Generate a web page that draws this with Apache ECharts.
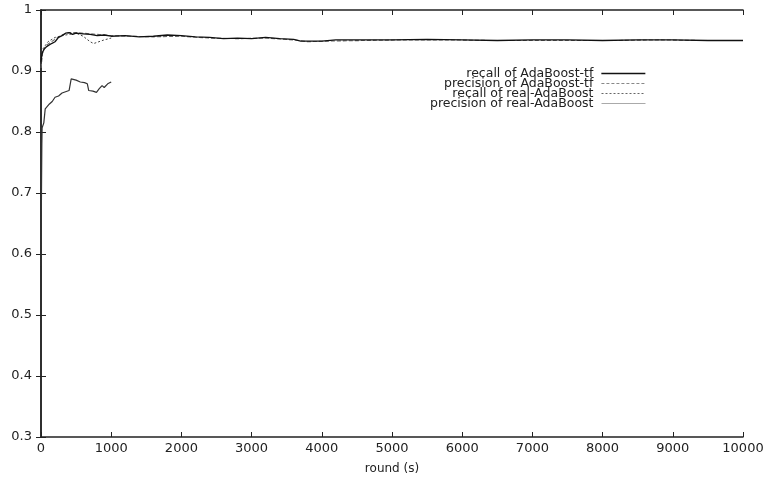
<!DOCTYPE html>
<html>
<head>
<meta charset="utf-8">
<script src="https://cdn.jsdelivr.net/npm/echarts@6/dist/echarts.min.js"></script>
<style>
  html, body { margin: 0; padding: 0; background: #fff; }
  #chart { width: 768px; height: 486px; }
</style>
</head>
<body>
<div id="chart"></div>
<script>
// series: [round, value]
const recallTf = [
  [1, 0.915], [10, 0.925], [20, 0.93], [40, 0.935], [60, 0.937], [80, 0.94], [100, 0.938],
  [150, 0.945], [200, 0.948], [250, 0.955], [300, 0.958], [350, 0.962], [400, 0.963],
  [450, 0.96], [500, 0.962], [600, 0.961], [700, 0.96], [800, 0.958], [900, 0.959],
  [1000, 0.957], [1200, 0.958], [1400, 0.956], [1600, 0.957], [1800, 0.959], [2000, 0.958],
  [2200, 0.956], [2400, 0.955], [2600, 0.953], [2800, 0.954], [3000, 0.953], [3200, 0.955],
  [3400, 0.953], [3600, 0.952], [3700, 0.949], [4000, 0.949], [4200, 0.951], [4500, 0.951],
  [5000, 0.951], [5500, 0.952], [6000, 0.951], [6500, 0.95], [7000, 0.951], [7500, 0.951],
  [8000, 0.95], [8500, 0.951], [9000, 0.951], [9500, 0.95], [10000, 0.95]
];
const precisionTf = [
  [1, 0.905], [20, 0.928], [50, 0.938], [100, 0.944], [200, 0.952], [300, 0.959],
  [400, 0.963], [500, 0.963], [700, 0.961], [1000, 0.958], [1300, 0.957], [1600, 0.956],
  [2000, 0.957], [2400, 0.954], [2800, 0.953], [3200, 0.954], [3600, 0.951], [3800, 0.948],
  [4100, 0.949], [4600, 0.95], [5200, 0.951], [5800, 0.951], [6400, 0.95], [7000, 0.95],
  [7600, 0.95], [8200, 0.95], [8800, 0.951], [9400, 0.95], [10000, 0.95]
];
const recallReal = [
  [1, 0.91], [20, 0.935], [50, 0.94], [100, 0.948], [200, 0.955], [300, 0.958],
  [400, 0.96], [500, 0.962], [600, 0.957], [700, 0.948], [750, 0.945], [800, 0.947],
  [900, 0.951], [1000, 0.954]
];
const precisionReal = [
  [1, 0.58], [4, 0.65], [8, 0.72], [12, 0.78], [16, 0.807], [40, 0.815], [60, 0.838],
  [90, 0.842], [120, 0.846], [160, 0.85], [200, 0.857], [250, 0.859], [300, 0.864],
  [350, 0.866], [400, 0.868], [430, 0.887], [500, 0.885], [560, 0.882], [620, 0.881],
  [660, 0.879], [680, 0.868], [740, 0.867], [790, 0.865], [830, 0.871], [870, 0.876],
  [900, 0.873], [950, 0.879], [1000, 0.882]
];

const seriesNames = [
  "recall of AdaBoost-tf",
  "precision of AdaBoost-tf",
  "recall of real-AdaBoost",
  "precision of real-AdaBoost"
];
const seriesData = [recallTf, precisionTf, recallReal, precisionReal];
const lineStyles = [
  { color: "#111", width: 1.3, type: "solid" },
  { color: "#666", width: 1.1, type: [4, 2] },
  { color: "#444", width: 1, type: [2, 2] },
  { color: "#333", width: 1.2, type: "solid" }
];
const legendSamples = [
  { color: "#111", width: 1.3, type: "solid" },
  { color: "#888", width: 1.2, type: [3, 2] },
  { color: "#666", width: 1, type: [2, 2] },
  { color: "#aaa", width: 1, type: "solid" }
];

const font = "DejaVu Sans, sans-serif";
const chart = echarts.init(document.getElementById("chart"));

// one legend per row so the samples line up on the right, text right-aligned
const legends = seriesNames.map((name, i) => ({
  data: [{ name: name, lineStyle: legendSamples[i], itemStyle: { opacity: 0 } }],
  right: 122,
  top: 67 + i * 10,
  orient: "horizontal",
  align: "right",
  itemWidth: 44,
  itemHeight: 8,
  itemGap: 0,
  padding: 0,
  selectedMode: false,
  textStyle: { fontFamily: font, fontSize: 12.5, color: "#222", padding: [0, 3, 0, 0] }
}));

const option = {
  backgroundColor: "#fff",
  animation: false,
  grid: { left: 41, right: 25, top: 10, bottom: 49 },
  legend: legends,
  xAxis: [
    {
      type: "value", min: 0, max: 10000, interval: 1000,
      name: "round (s)", nameLocation: "middle", nameGap: 26,
      nameTextStyle: { fontFamily: font, fontSize: 12, color: "#222" },
      axisLine: { lineStyle: { color: "#222", width: 1.5 } },
      axisTick: { inside: true, length: 5, lineStyle: { color: "#222" } },
      axisLabel: { fontFamily: font, fontSize: 13, color: "#222", margin: 5, formatter: v => String(v) },
      splitLine: { show: false }
    },
    {
      type: "value", min: 0, max: 10000, interval: 1000, position: "top",
      axisLine: { lineStyle: { color: "#222", width: 1.5 } },
      axisTick: { inside: true, length: 5, lineStyle: { color: "#222" } },
      axisLabel: { show: false },
      splitLine: { show: false }
    }
  ],
  yAxis: [
    {
      type: "value", min: 0.3, max: 1, interval: 0.1,
      axisLine: { show: true, lineStyle: { color: "#222", width: 1.5 } },
      axisTick: { show: true, inside: true, length: 5, lineStyle: { color: "#222" } },
      axisLabel: {
        fontFamily: font, fontSize: 13, color: "#222", margin: 9,
        formatter: v => (Math.abs(v - 1) < 1e-9 ? "1" : v.toFixed(1))
      },
      splitLine: { show: false }
    },
    {
      type: "value", min: 0.3, max: 1, interval: 0.1, position: "right",
      axisLine: { show: true, lineStyle: { color: "#222", width: 1.5 } },
      axisTick: { show: true, inside: true, length: 5, lineStyle: { color: "#222" } },
      axisLabel: { show: false },
      splitLine: { show: false }
    }
  ],
  series: seriesNames.map((name, i) => ({
    name: name,
    type: "line",
    xAxisIndex: 0,
    yAxisIndex: 0,
    data: seriesData[i],
    showSymbol: false,
    symbol: "none",
    lineStyle: lineStyles[i],
    itemStyle: { color: lineStyles[i].color },
    z: 4 - i
  }))
};

chart.setOption(option);
</script>
</body>
</html>
